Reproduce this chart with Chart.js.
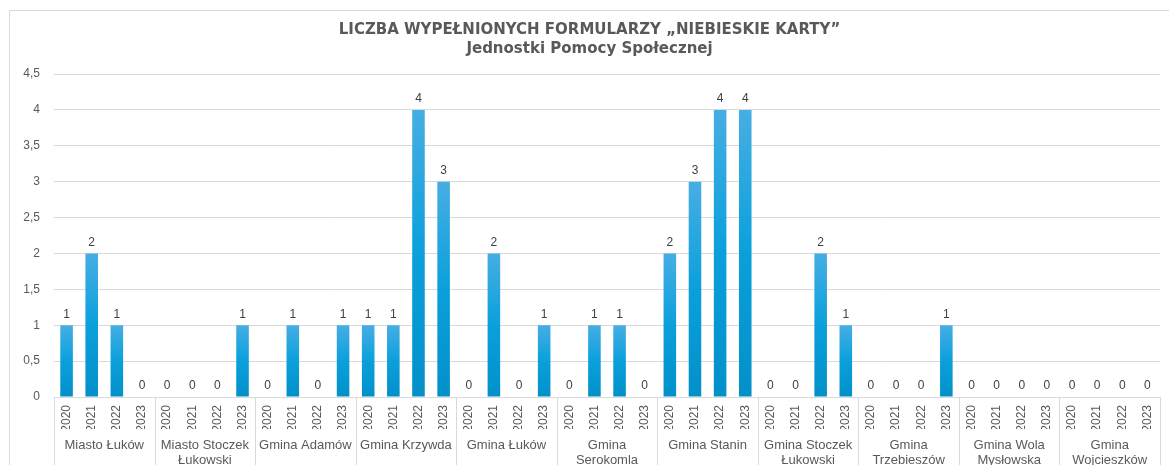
<!DOCTYPE html>
<html>
<head>
<meta charset="utf-8">
<script src="https://cdn.jsdelivr.net/npm/chart.js@4/dist/chart.umd.min.js"></script>
<style>
  html, body { margin: 0; padding: 0; background: #fff; overflow: hidden; }
  #frame { position: absolute; left: 9px; top: 10px; width: 1200px; height: 500px; border: 1px solid #d9d9d9; }
  #box { position: relative; width: 1159px; height: 475px; }
</style>
</head>
<body>
<div id="frame"><div id="box"><canvas id="barChart"></canvas></div></div>
<script>
var years = ["2020", "2021", "2022", "2023"];
var groups = [
  ["Miasto Łuków"], ["Miasto Stoczek", "Łukowski"], ["Gmina Adamów"], ["Gmina Krzywda"],
  ["Gmina Łuków"], ["Gmina", "Serokomla"], ["Gmina Stanin"], ["Gmina Stoczek", "Łukowski"],
  ["Gmina", "Trzebieszów"], ["Gmina Wola", "Mysłowska"], ["Gmina", "Wojcieszków"]
];
// values per group, 2020..2023
var values = [
  1, 2, 1, 0,
  0, 0, 0, 1,
  0, 1, 0, 1,
  1, 1, 4, 3,
  0, 2, 0, 1,
  0, 1, 1, 0,
  2, 3, 4, 4,
  0, 0, 2, 1,
  0, 0, 0, 1,
  0, 0, 0, 0,
  0, 0, 0, 0
];
var yTicks = [0, 0.5, 1, 1.5, 2, 2.5, 3, 3.5, 4, 4.5];

var labels = [];
groups.forEach(function() { years.forEach(function(y) { labels.push(y); }); });

var font = "'Liberation Sans', Arial, sans-serif";
var titleFont = "'DejaVu Sans', sans-serif";
var grey = "#595959";

// value labels above each bar
var valueLabels = {
  id: "valueLabels",
  afterDatasetsDraw: function(chart) {
    var ctx = chart.ctx;
    var meta = chart.getDatasetMeta(0);
    ctx.save();
    ctx.font = "12px " + font;
    ctx.fillStyle = "#404040";
    ctx.textAlign = "center";
    ctx.textBaseline = "bottom";
    meta.data.forEach(function(bar, i) {
      ctx.fillText(String(values[i]), bar.x, bar.y - 5);
    });
    ctx.restore();
  }
};

// group separators below the axis
var groupLines = {
  id: "groupLines",
  afterDraw: function(chart) {
    var ctx = chart.ctx;
    var x2 = chart.scales.x2;
    ctx.save();
    ctx.strokeStyle = "#d9d9d9";
    ctx.lineWidth = 1;
    for (var i = 0; i <= groups.length; i++) {
      var px = Math.round(x2.getPixelForValue(i - 0.5)) + 0.5;
      ctx.beginPath();
      ctx.moveTo(px, chart.chartArea.bottom);
      ctx.lineTo(px, chart.height);
      ctx.stroke();
    }
    ctx.restore();
  }
};

function barFill(context) {
  var chart = context.chart;
  if (!chart.chartArea || !chart.scales.y) return "#1a9fda";
  var y = chart.scales.y;
  var top = y.getPixelForValue(values[context.dataIndex]);
  var bottom = y.getPixelForValue(0);
  if (bottom - top < 1) return "#1a9fda";
  var g = chart.ctx.createLinearGradient(0, top, 0, bottom);
  g.addColorStop(0, "#46aee3");
  g.addColorStop(0.5, "#0aa0dc");
  g.addColorStop(1, "#0390c9");
  return g;
}

var barChart = document.getElementById("barChart").getContext("2d");
var myBarChart = new Chart(barChart, {
  type: "bar",
  data: {
    labels: labels,
    datasets: [{
      data: values,
      backgroundColor: barFill,
      borderWidth: 0,
      barPercentage: 0.5,
      categoryPercentage: 1
    }]
  },
  options: {
    animation: false,
    responsive: true,
    maintainAspectRatio: false,
    layout: { padding: { left: 9, right: 9, top: 0, bottom: 0 } },
    plugins: {
      legend: { display: false },
      tooltip: { enabled: false },
      title: {
        display: true,
        text: "LICZBA WYPEŁNIONYCH FORMULARZY „NIEBIESKIE KARTY”",
        color: grey,
        font: { family: titleFont, size: 15, weight: "bold", lineHeight: 1.2 },
        padding: { top: 10, bottom: 1 }
      },
      subtitle: {
        display: true,
        text: "Jednostki Pomocy Społecznej",
        color: grey,
        font: { family: titleFont, size: 15, weight: "bold", lineHeight: 1.2 },
        padding: { top: 0, bottom: 16 }
      }
    },
    scales: {
      x: {
        type: "category",
        position: "bottom",
        grid: { display: false },
        border: { display: true, color: "#d9d9d9" },
        ticks: {
          color: grey,
          font: { family: font, size: 12 },
          minRotation: 90,
          maxRotation: 90,
          autoSkip: false,
          padding: 0
        },
        afterFit: function(scale) { scale.height = 32; }
      },
      x2: {
        type: "category",
        position: "bottom",
        labels: groups,
        offset: true,
        grid: { display: false },
        border: { display: false },
        ticks: {
          color: grey,
          font: { family: font, size: 13, lineHeight: 1.15 },
          maxRotation: 0,
          minRotation: 0,
          autoSkip: false,
          padding: 1
        },
        afterFit: function(scale) { scale.height = 57; }
      },
      y: {
        min: 0,
        max: 4.5,
        border: { display: false },
        grid: { color: "#d9d9d9", drawTicks: false },
        afterBuildTicks: function(scale) {
          scale.ticks = yTicks.map(function(v) { return { value: v }; });
        },
        ticks: {
          color: grey,
          font: { family: font, size: 12 },
          padding: 14,
          callback: function(v) { return String(v).replace(".", ","); }
        },
        afterFit: function(scale) { scale.width = 35; }
      }
    }
  },
  plugins: [valueLabels, groupLines]
});
</script>
</body>
</html>
